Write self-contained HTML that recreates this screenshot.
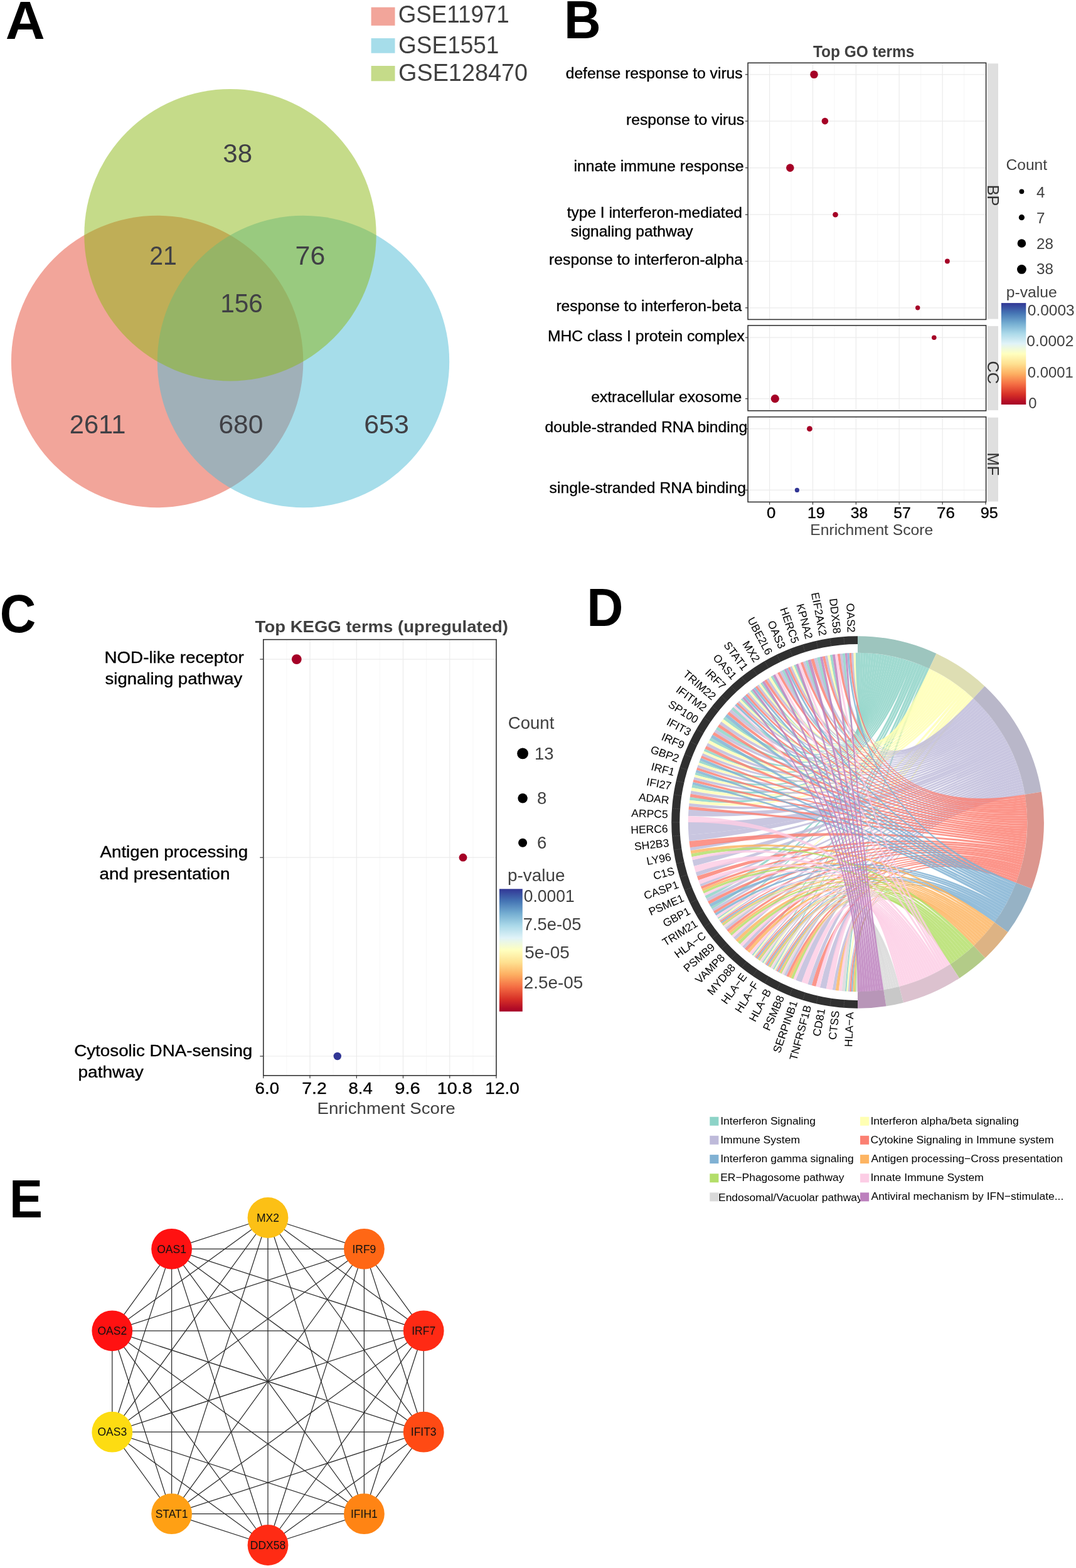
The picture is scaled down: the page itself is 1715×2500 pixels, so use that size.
<!DOCTYPE html>
<html><head><meta charset="utf-8"><title>Figure</title>
<style>
html,body{margin:0;padding:0;background:#fff;}
svg{display:block;font-family:'Liberation Sans', Arial, Helvetica, sans-serif;}
</style></head>
<body>
<svg width="1715" height="2500" viewBox="0 0 1715 2500">
<rect width="1715" height="2500" fill="#fff"/>
<text transform="translate(8.86,61.50) scale(1.0193,1)" font-size="85.5" font-weight="bold">A</text>
<text transform="translate(898.89,61.40) scale(0.9519,1)" font-size="85.5" font-weight="bold">B</text>
<text transform="translate(-0.20,1008.20) scale(0.9321,1)" font-size="85.5" font-weight="bold">C</text>
<text transform="translate(935.35,997.80) scale(0.9423,1)" font-size="85.5" font-weight="bold">D</text>
<text transform="translate(15.12,1940.80) scale(0.9292,1)" font-size="85.5" font-weight="bold">E</text>
<g>
<circle cx="250.6" cy="576.5" r="232.7" fill="#E64B35" fill-opacity="0.5"/>
<circle cx="483.5" cy="576.5" r="232.7" fill="#4DBBD5" fill-opacity="0.5"/>
<circle cx="367.0" cy="374.7" r="232.7" fill="#8BB713" fill-opacity="0.5"/>
</g>
<text transform="translate(355.31,258.90) scale(0.9930,1)" font-size="42.4" fill="#404045">38</text>
<text transform="translate(238.15,421.60) scale(0.9256,1)" font-size="42.4" fill="#404045">21</text>
<text transform="translate(470.57,421.60) scale(1.0140,1)" font-size="42.4" fill="#404045">76</text>
<text transform="translate(351.13,498.00) scale(0.9576,1)" font-size="42.4" fill="#404045">156</text>
<text transform="translate(110.73,691.00) scale(0.9839,1)" font-size="42.4" fill="#404045">2611</text>
<text transform="translate(348.39,691.00) scale(1.0045,1)" font-size="42.4" fill="#404045">680</text>
<text transform="translate(580.17,691.00) scale(1.0149,1)" font-size="42.4" fill="#404045">653</text>
<rect x="591.6" y="11.6" width="37.9" height="29.2" fill="#F2A59A"/>
<rect x="591.6" y="61.0" width="37.9" height="23.7" fill="#A6DDEA"/>
<rect x="591.6" y="105.0" width="37.9" height="24.3" fill="#C5DB89"/>
<text transform="translate(634.72,36.40) scale(0.9424,1)" font-size="39" fill="#404040">GSE11971</text>
<text transform="translate(635.10,84.70) scale(0.9479,1)" font-size="39" fill="#404040">GSE1551</text>
<text transform="translate(635.06,129.10) scale(0.9694,1)" font-size="39" fill="#404040">GSE128470</text>
<rect x="1192.1" y="100.3" width="379.5" height="409.1" fill="#fff"/>
<line x1="1261.0" y1="100.3" x2="1261.0" y2="509.4" stroke="#F4F4F4" stroke-width="0.8"/>
<line x1="1329.9" y1="100.3" x2="1329.9" y2="509.4" stroke="#F4F4F4" stroke-width="0.8"/>
<line x1="1398.8" y1="100.3" x2="1398.8" y2="509.4" stroke="#F4F4F4" stroke-width="0.8"/>
<line x1="1467.7" y1="100.3" x2="1467.7" y2="509.4" stroke="#F4F4F4" stroke-width="0.8"/>
<line x1="1536.6" y1="100.3" x2="1536.6" y2="509.4" stroke="#F4F4F4" stroke-width="0.8"/>
<line x1="1192.2" y1="100.3" x2="1192.2" y2="509.4" stroke="#F4F4F4" stroke-width="0.8"/>
<line x1="1226.6" y1="100.3" x2="1226.6" y2="509.4" stroke="#EBEBEB" stroke-width="1.2"/>
<line x1="1295.5" y1="100.3" x2="1295.5" y2="509.4" stroke="#EBEBEB" stroke-width="1.2"/>
<line x1="1364.4" y1="100.3" x2="1364.4" y2="509.4" stroke="#EBEBEB" stroke-width="1.2"/>
<line x1="1433.2" y1="100.3" x2="1433.2" y2="509.4" stroke="#EBEBEB" stroke-width="1.2"/>
<line x1="1502.1" y1="100.3" x2="1502.1" y2="509.4" stroke="#EBEBEB" stroke-width="1.2"/>
<rect x="1192.1" y="518.9" width="379.5" height="136.0" fill="#fff"/>
<line x1="1261.0" y1="518.9" x2="1261.0" y2="654.9" stroke="#F4F4F4" stroke-width="0.8"/>
<line x1="1329.9" y1="518.9" x2="1329.9" y2="654.9" stroke="#F4F4F4" stroke-width="0.8"/>
<line x1="1398.8" y1="518.9" x2="1398.8" y2="654.9" stroke="#F4F4F4" stroke-width="0.8"/>
<line x1="1467.7" y1="518.9" x2="1467.7" y2="654.9" stroke="#F4F4F4" stroke-width="0.8"/>
<line x1="1536.6" y1="518.9" x2="1536.6" y2="654.9" stroke="#F4F4F4" stroke-width="0.8"/>
<line x1="1192.2" y1="518.9" x2="1192.2" y2="654.9" stroke="#F4F4F4" stroke-width="0.8"/>
<line x1="1226.6" y1="518.9" x2="1226.6" y2="654.9" stroke="#EBEBEB" stroke-width="1.2"/>
<line x1="1295.5" y1="518.9" x2="1295.5" y2="654.9" stroke="#EBEBEB" stroke-width="1.2"/>
<line x1="1364.4" y1="518.9" x2="1364.4" y2="654.9" stroke="#EBEBEB" stroke-width="1.2"/>
<line x1="1433.2" y1="518.9" x2="1433.2" y2="654.9" stroke="#EBEBEB" stroke-width="1.2"/>
<line x1="1502.1" y1="518.9" x2="1502.1" y2="654.9" stroke="#EBEBEB" stroke-width="1.2"/>
<rect x="1192.1" y="664.7" width="379.5" height="135.7" fill="#fff"/>
<line x1="1261.0" y1="664.7" x2="1261.0" y2="800.4" stroke="#F4F4F4" stroke-width="0.8"/>
<line x1="1329.9" y1="664.7" x2="1329.9" y2="800.4" stroke="#F4F4F4" stroke-width="0.8"/>
<line x1="1398.8" y1="664.7" x2="1398.8" y2="800.4" stroke="#F4F4F4" stroke-width="0.8"/>
<line x1="1467.7" y1="664.7" x2="1467.7" y2="800.4" stroke="#F4F4F4" stroke-width="0.8"/>
<line x1="1536.6" y1="664.7" x2="1536.6" y2="800.4" stroke="#F4F4F4" stroke-width="0.8"/>
<line x1="1192.2" y1="664.7" x2="1192.2" y2="800.4" stroke="#F4F4F4" stroke-width="0.8"/>
<line x1="1226.6" y1="664.7" x2="1226.6" y2="800.4" stroke="#EBEBEB" stroke-width="1.2"/>
<line x1="1295.5" y1="664.7" x2="1295.5" y2="800.4" stroke="#EBEBEB" stroke-width="1.2"/>
<line x1="1364.4" y1="664.7" x2="1364.4" y2="800.4" stroke="#EBEBEB" stroke-width="1.2"/>
<line x1="1433.2" y1="664.7" x2="1433.2" y2="800.4" stroke="#EBEBEB" stroke-width="1.2"/>
<line x1="1502.1" y1="664.7" x2="1502.1" y2="800.4" stroke="#EBEBEB" stroke-width="1.2"/>
<line x1="1192.1" y1="118.8" x2="1571.6" y2="118.8" stroke="#EBEBEB" stroke-width="1.2"/>
<line x1="1192.1" y1="193.1" x2="1571.6" y2="193.1" stroke="#EBEBEB" stroke-width="1.2"/>
<line x1="1192.1" y1="267.6" x2="1571.6" y2="267.6" stroke="#EBEBEB" stroke-width="1.2"/>
<line x1="1192.1" y1="342.2" x2="1571.6" y2="342.2" stroke="#EBEBEB" stroke-width="1.2"/>
<line x1="1192.1" y1="416.5" x2="1571.6" y2="416.5" stroke="#EBEBEB" stroke-width="1.2"/>
<line x1="1192.1" y1="490.8" x2="1571.6" y2="490.8" stroke="#EBEBEB" stroke-width="1.2"/>
<line x1="1192.1" y1="538.2" x2="1571.6" y2="538.2" stroke="#EBEBEB" stroke-width="1.2"/>
<line x1="1192.1" y1="635.7" x2="1571.6" y2="635.7" stroke="#EBEBEB" stroke-width="1.2"/>
<line x1="1192.1" y1="683.7" x2="1571.6" y2="683.7" stroke="#EBEBEB" stroke-width="1.2"/>
<line x1="1192.1" y1="781.4" x2="1571.6" y2="781.4" stroke="#EBEBEB" stroke-width="1.2"/>
<circle cx="1297.5" cy="118.8" r="6.3" fill="#A50026"/>
<circle cx="1314.9" cy="193.1" r="5.3" fill="#A50026"/>
<circle cx="1259.3" cy="267.6" r="6.3" fill="#A50026"/>
<circle cx="1331.5" cy="342.2" r="4.3" fill="#A50026"/>
<circle cx="1509.9" cy="416.5" r="3.9" fill="#A50026"/>
<circle cx="1462.7" cy="490.8" r="3.7" fill="#A50026"/>
<circle cx="1488.8" cy="538.2" r="3.8" fill="#A50026"/>
<circle cx="1235.3" cy="635.7" r="6.6" fill="#A50026"/>
<circle cx="1290.4" cy="683.7" r="4.4" fill="#A50026"/>
<circle cx="1270.4" cy="781.4" r="3.6" fill="#313695"/>
<rect x="1192.1" y="100.3" width="379.5" height="409.1" fill="none" stroke="#333" stroke-width="1.6"/>
<rect x="1573.9" y="101.3" width="17.1" height="407.3" fill="#DFDFDF"/>
<rect x="1192.1" y="518.9" width="379.5" height="136.0" fill="none" stroke="#333" stroke-width="1.6"/>
<rect x="1573.9" y="519.9" width="17.1" height="134.2" fill="#DFDFDF"/>
<rect x="1192.1" y="664.7" width="379.5" height="135.7" fill="none" stroke="#333" stroke-width="1.6"/>
<rect x="1573.9" y="665.7" width="17.1" height="133.9" fill="#DFDFDF"/>
<text transform="translate(1573.6,311.6) rotate(90)" font-size="25.4" text-anchor="middle" fill="#333">BP</text>
<text transform="translate(1573.6,593.8) rotate(90)" font-size="25.4" text-anchor="middle" fill="#333">CC</text>
<text transform="translate(1573.6,739.9) rotate(90)" font-size="25.4" text-anchor="middle" fill="#333">MF</text>
<line x1="1187.9" y1="118.8" x2="1192.1" y2="118.8" stroke="#333" stroke-width="1.2"/>
<line x1="1187.9" y1="193.1" x2="1192.1" y2="193.1" stroke="#333" stroke-width="1.2"/>
<line x1="1187.9" y1="267.6" x2="1192.1" y2="267.6" stroke="#333" stroke-width="1.2"/>
<line x1="1187.9" y1="342.2" x2="1192.1" y2="342.2" stroke="#333" stroke-width="1.2"/>
<line x1="1187.9" y1="416.5" x2="1192.1" y2="416.5" stroke="#333" stroke-width="1.2"/>
<line x1="1187.9" y1="490.8" x2="1192.1" y2="490.8" stroke="#333" stroke-width="1.2"/>
<line x1="1187.9" y1="538.2" x2="1192.1" y2="538.2" stroke="#333" stroke-width="1.2"/>
<line x1="1187.9" y1="635.7" x2="1192.1" y2="635.7" stroke="#333" stroke-width="1.2"/>
<line x1="1187.9" y1="683.7" x2="1192.1" y2="683.7" stroke="#333" stroke-width="1.2"/>
<line x1="1187.9" y1="781.4" x2="1192.1" y2="781.4" stroke="#333" stroke-width="1.2"/>
<text transform="translate(901.69,124.60) scale(1.0057,1)" font-size="24.5" stroke="#000" stroke-width="0.35">defense response to virus</text>
<text transform="translate(997.98,199.10) scale(1.0092,1)" font-size="24.5" stroke="#000" stroke-width="0.35">response to virus</text>
<text transform="translate(914.58,273.00) scale(1.0102,1)" font-size="24.5" stroke="#000" stroke-width="0.35">innate immune response</text>
<text transform="translate(903.70,347.10)" font-size="24.5" stroke="#000" stroke-width="0.35">type I interferon-mediated</text>
<text transform="translate(909.80,376.70)" font-size="24.5" stroke="#000" stroke-width="0.35">signaling pathway</text>
<text transform="translate(875.08,422.40) scale(1.0089,1)" font-size="24.5" stroke="#000" stroke-width="0.35">response to interferon-alpha</text>
<text transform="translate(886.39,496.00) scale(1.0058,1)" font-size="24.5" stroke="#000" stroke-width="0.35">response to interferon-beta</text>
<text transform="translate(872.88,544.00) scale(1.0081,1)" font-size="24.5" stroke="#000" stroke-width="0.35">MHC class I protein complex</text>
<text transform="translate(942.19,641.00) scale(1.0076,1)" font-size="24.5" stroke="#000" stroke-width="0.35">extracellular exosome</text>
<text transform="translate(868.59,689.20) scale(1.0082,1)" font-size="24.5" stroke="#000" stroke-width="0.35">double-stranded RNA binding</text>
<text transform="translate(875.59,786.30) scale(1.0091,1)" font-size="24.5" stroke="#000" stroke-width="0.35">single-stranded RNA binding</text>
<line x1="1226.6" y1="800.4" x2="1226.6" y2="804.6" stroke="#333" stroke-width="1.2"/>
<text transform="translate(1222.01,826.40) scale(1.0909,1)" font-size="23.6" stroke="#000" stroke-width="0.35">0</text>
<line x1="1295.5" y1="800.4" x2="1295.5" y2="804.6" stroke="#333" stroke-width="1.2"/>
<text transform="translate(1286.99,826.40) scale(1.0565,1)" font-size="23.6" stroke="#000" stroke-width="0.35">19</text>
<line x1="1364.4" y1="800.4" x2="1364.4" y2="804.6" stroke="#333" stroke-width="1.2"/>
<text transform="translate(1355.75,826.40) scale(1.0458,1)" font-size="23.6" stroke="#000" stroke-width="0.35">38</text>
<line x1="1433.2" y1="800.4" x2="1433.2" y2="804.6" stroke="#333" stroke-width="1.2"/>
<text transform="translate(1424.25,826.40) scale(1.0458,1)" font-size="23.6" stroke="#000" stroke-width="0.35">57</text>
<line x1="1502.1" y1="800.4" x2="1502.1" y2="804.6" stroke="#333" stroke-width="1.2"/>
<text transform="translate(1493.00,826.40) scale(1.1000,1)" font-size="23.6" stroke="#000" stroke-width="0.35">76</text>
<line x1="1571.0" y1="800.4" x2="1571.0" y2="804.6" stroke="#333" stroke-width="1.2"/>
<text transform="translate(1562.83,826.40) scale(1.0667,1)" font-size="23.6" stroke="#000" stroke-width="0.35">95</text>
<text transform="translate(1291.26,852.80) scale(1.0196,1)" font-size="24.2" fill="#404040">Enrichment Score</text>
<text transform="translate(1295.90,91.10) scale(0.9805,1)" font-size="25.0" font-weight="bold" fill="#404040">Top GO terms</text>
<text transform="translate(1603.50,271.20)" font-size="24.6" fill="#404040">Count</text>
<circle cx="1628.4" cy="305.3" r="3.9" fill="#000"/>
<text x="1652.0" y="314.6" font-size="24.2" fill="#404040">4</text>
<circle cx="1628.4" cy="346.7" r="4.6" fill="#000"/>
<text x="1652.0" y="356.1" font-size="24.2" fill="#404040">7</text>
<circle cx="1628.4" cy="388.0" r="6.8" fill="#000"/>
<text x="1652.0" y="397.3" font-size="24.2" fill="#404040">28</text>
<circle cx="1628.4" cy="429.4" r="7.4" fill="#000"/>
<text x="1652.0" y="437.0" font-size="24.2" fill="#404040">38</text>
<text transform="translate(1603.68,474.10) scale(1.0208,1)" font-size="24.2" fill="#404040">p-value</text>
<defs><linearGradient id="rdylbu" x1="0" y1="0" x2="0" y2="1"><stop offset="0.0" stop-color="#313695"/><stop offset="0.1" stop-color="#4575B4"/><stop offset="0.2" stop-color="#74ADD1"/><stop offset="0.3" stop-color="#ABD9E9"/><stop offset="0.4" stop-color="#E0F3F8"/><stop offset="0.5" stop-color="#FFFFBF"/><stop offset="0.6" stop-color="#FEE090"/><stop offset="0.7" stop-color="#FDAE61"/><stop offset="0.8" stop-color="#F46D43"/><stop offset="0.9" stop-color="#D73027"/><stop offset="1.0" stop-color="#A50026"/></linearGradient></defs>
<rect x="1595.9" y="483.1" width="39.4" height="161.9" fill="url(#rdylbu)"/>
<text transform="translate(1637.79,502.50) scale(1.0125,1)" font-size="24.2" fill="#404040">0.0003</text>
<text transform="translate(1636.29,551.70) scale(1.0139,1)" font-size="24.2" fill="#404040">0.0002</text>
<text transform="translate(1637.81,601.50) scale(0.9861,1)" font-size="24.2" fill="#404040">0.0001</text>
<text transform="translate(1639.22,651.20) scale(0.9833,1)" font-size="24.2" fill="#404040">0</text>
<rect x="419.8" y="1019.7" width="371.2" height="695.1" fill="#fff"/>
<line x1="456.9" y1="1019.7" x2="456.9" y2="1714.8" stroke="#F4F4F4" stroke-width="0.8"/>
<line x1="531.2" y1="1019.7" x2="531.2" y2="1714.8" stroke="#F4F4F4" stroke-width="0.8"/>
<line x1="605.4" y1="1019.7" x2="605.4" y2="1714.8" stroke="#F4F4F4" stroke-width="0.8"/>
<line x1="679.6" y1="1019.7" x2="679.6" y2="1714.8" stroke="#F4F4F4" stroke-width="0.8"/>
<line x1="753.9" y1="1019.7" x2="753.9" y2="1714.8" stroke="#F4F4F4" stroke-width="0.8"/>
<line x1="494.0" y1="1019.7" x2="494.0" y2="1714.8" stroke="#EBEBEB" stroke-width="1.2"/>
<line x1="568.3" y1="1019.7" x2="568.3" y2="1714.8" stroke="#EBEBEB" stroke-width="1.2"/>
<line x1="642.5" y1="1019.7" x2="642.5" y2="1714.8" stroke="#EBEBEB" stroke-width="1.2"/>
<line x1="716.8" y1="1019.7" x2="716.8" y2="1714.8" stroke="#EBEBEB" stroke-width="1.2"/>
<line x1="419.8" y1="1051.1" x2="791.0" y2="1051.1" stroke="#EBEBEB" stroke-width="1.2"/>
<line x1="419.8" y1="1367.2" x2="791.0" y2="1367.2" stroke="#EBEBEB" stroke-width="1.2"/>
<line x1="419.8" y1="1684.0" x2="791.0" y2="1684.0" stroke="#EBEBEB" stroke-width="1.2"/>
<circle cx="472.8" cy="1051.1" r="7.9" fill="#A50026"/>
<line x1="414.3" y1="1051.1" x2="419.8" y2="1051.1" stroke="#333" stroke-width="1.2"/>
<circle cx="738.0" cy="1367.2" r="6.4" fill="#A50026"/>
<line x1="414.3" y1="1367.2" x2="419.8" y2="1367.2" stroke="#333" stroke-width="1.2"/>
<circle cx="537.8" cy="1684.0" r="6.2" fill="#313695"/>
<line x1="414.3" y1="1684.0" x2="419.8" y2="1684.0" stroke="#333" stroke-width="1.2"/>
<rect x="419.8" y="1019.7" width="371.2" height="695.1" fill="none" stroke="#333" stroke-width="1.6"/>
<text transform="translate(166.46,1057.30) scale(1.0684,1)" font-size="26.0" stroke="#000" stroke-width="0.35">NOD-like receptor</text>
<text transform="translate(167.54,1090.70) scale(1.0592,1)" font-size="26.0" stroke="#000" stroke-width="0.35">signaling pathway</text>
<text transform="translate(159.50,1367.20) scale(1.0659,1)" font-size="26.0" stroke="#000" stroke-width="0.35">Antigen processing</text>
<text transform="translate(158.43,1401.50) scale(1.0743,1)" font-size="26.0" stroke="#000" stroke-width="0.35">and presentation</text>
<text transform="translate(118.13,1684.00) scale(1.0692,1)" font-size="26.0" stroke="#000" stroke-width="0.35">Cytosolic DNA-sensing</text>
<text transform="translate(124.44,1717.50) scale(1.0789,1)" font-size="26.0" stroke="#000" stroke-width="0.35">pathway</text>
<line x1="419.8" y1="1714.8" x2="419.8" y2="1719.3" stroke="#333" stroke-width="1.2"/>
<text transform="translate(406.62,1743.60) scale(1.0794,1)" font-size="25.6" stroke="#000" stroke-width="0.35">6.0</text>
<line x1="494.0" y1="1714.8" x2="494.0" y2="1719.3" stroke="#333" stroke-width="1.2"/>
<text transform="translate(481.29,1743.60) scale(1.1091,1)" font-size="25.6" stroke="#000" stroke-width="0.35">7.2</text>
<line x1="568.3" y1="1714.8" x2="568.3" y2="1719.3" stroke="#333" stroke-width="1.2"/>
<text transform="translate(555.52,1743.60) scale(1.0765,1)" font-size="25.6" stroke="#000" stroke-width="0.35">8.4</text>
<line x1="642.5" y1="1714.8" x2="642.5" y2="1719.3" stroke="#333" stroke-width="1.2"/>
<text transform="translate(629.16,1743.60) scale(1.1394,1)" font-size="25.6" stroke="#000" stroke-width="0.35">9.6</text>
<line x1="716.8" y1="1714.8" x2="716.8" y2="1719.3" stroke="#333" stroke-width="1.2"/>
<text transform="translate(696.76,1743.60) scale(1.1213,1)" font-size="25.6" stroke="#000" stroke-width="0.35">10.8</text>
<line x1="791.0" y1="1714.8" x2="791.0" y2="1719.3" stroke="#333" stroke-width="1.2"/>
<text transform="translate(773.31,1743.60) scale(1.0957,1)" font-size="25.6" stroke="#000" stroke-width="0.35">12.0</text>
<text transform="translate(505.47,1775.70) scale(1.0662,1)" font-size="26.0" fill="#404040">Enrichment Score</text>
<text transform="translate(406.60,1007.80) scale(1.0398,1)" font-size="26.5" font-weight="bold" fill="#404040">Top KEGG terms (upregulated)</text>
<text transform="translate(809.70,1161.90) scale(1.0042,1)" font-size="27.5" fill="#404040">Count</text>
<circle cx="833.1" cy="1201.4" r="8.9" fill="#000"/>
<text x="852.0" y="1210.6" font-size="27.5" fill="#404040">13</text>
<circle cx="833.1" cy="1272.7" r="7.7" fill="#000"/>
<text x="856.0" y="1281.6" font-size="27.5" fill="#404040">8</text>
<circle cx="833.1" cy="1343.7" r="7.0" fill="#000"/>
<text x="856.0" y="1352.7" font-size="27.5" fill="#404040">6</text>
<text transform="translate(808.97,1405.00) scale(1.0138,1)" font-size="27.5" fill="#404040">p-value</text>
<rect x="795.9" y="1417.3" width="36.9" height="195.4" fill="url(#rdylbu)"/>
<text transform="translate(834.74,1437.80) scale(0.9646,1)" font-size="27.5" fill="#404040">0.0001</text>
<text transform="translate(833.70,1483.00) scale(0.9956,1)" font-size="27.5" fill="#404040">7.5e-05</text>
<text transform="translate(836.28,1528.20) scale(1.0176,1)" font-size="27.5" fill="#404040">5e-05</text>
<text transform="translate(834.68,1576.10) scale(1.0154,1)" font-size="27.5" fill="#404040">2.5e-05</text>
<g stroke="none">
<g fill="#8DD3C7" fill-opacity="0.83"><path d="M1367.00,1040.80A270.2,270.2 0 0 0 1363.63,1040.82Q1367.0,1311.0 1371.37,1040.84A270.2,270.2 0 0 0 1367.00,1040.80Q1367.0,1311.0 1367.00,1040.80Z"/><path d="M1346.81,1041.56A270.2,270.2 0 0 0 1342.78,1041.89Q1367.0,1311.0 1375.73,1040.94A270.2,270.2 0 0 0 1371.37,1040.84Q1367.0,1311.0 1346.81,1041.56Z"/><path d="M1326.73,1043.82A270.2,270.2 0 0 0 1322.74,1044.45Q1367.0,1311.0 1380.09,1041.12A270.2,270.2 0 0 0 1375.73,1040.94Q1367.0,1311.0 1326.73,1043.82Z"/><path d="M1306.87,1047.57A270.2,270.2 0 0 0 1301.96,1048.74Q1367.0,1311.0 1384.45,1041.36A270.2,270.2 0 0 0 1380.09,1041.12Q1367.0,1311.0 1306.87,1047.57Z"/><path d="M1287.36,1052.80A270.2,270.2 0 0 0 1283.50,1054.02Q1367.0,1311.0 1388.81,1041.68A270.2,270.2 0 0 0 1384.45,1041.36Q1367.0,1311.0 1287.36,1052.80Z"/><path d="M1268.28,1059.48A270.2,270.2 0 0 0 1265.16,1060.73Q1367.0,1311.0 1393.16,1042.07A270.2,270.2 0 0 0 1388.81,1041.68Q1367.0,1311.0 1268.28,1059.48Z"/><path d="M1249.76,1067.56A270.2,270.2 0 0 0 1246.14,1069.34Q1367.0,1311.0 1397.50,1042.53A270.2,270.2 0 0 0 1393.16,1042.07Q1367.0,1311.0 1249.76,1067.56Z"/><path d="M1231.90,1077.00A270.2,270.2 0 0 0 1228.41,1079.05Q1367.0,1311.0 1401.84,1043.05A270.2,270.2 0 0 0 1397.50,1042.53Q1367.0,1311.0 1231.90,1077.00Z"/><path d="M1214.79,1087.75A270.2,270.2 0 0 0 1212.02,1089.67Q1367.0,1311.0 1406.16,1043.65A270.2,270.2 0 0 0 1401.84,1043.05Q1367.0,1311.0 1214.79,1087.75Z"/><path d="M1198.53,1099.75A270.2,270.2 0 0 0 1195.91,1101.87Q1367.0,1311.0 1410.48,1044.32A270.2,270.2 0 0 0 1406.16,1043.65Q1367.0,1311.0 1198.53,1099.75Z"/><path d="M1183.22,1112.93A270.2,270.2 0 0 0 1180.76,1115.24Q1367.0,1311.0 1414.78,1045.06A270.2,270.2 0 0 0 1410.48,1044.32Q1367.0,1311.0 1183.22,1112.93Z"/><path d="M1168.93,1127.22A270.2,270.2 0 0 0 1165.53,1130.95Q1367.0,1311.0 1419.07,1045.86A270.2,270.2 0 0 0 1414.78,1045.06Q1367.0,1311.0 1168.93,1127.22Z"/><path d="M1155.75,1142.53A270.2,270.2 0 0 0 1152.64,1146.51Q1367.0,1311.0 1423.35,1046.74A270.2,270.2 0 0 0 1419.07,1045.86Q1367.0,1311.0 1155.75,1142.53Z"/><path d="M1143.75,1158.79A270.2,270.2 0 0 0 1140.94,1162.99Q1367.0,1311.0 1427.61,1047.69A270.2,270.2 0 0 0 1423.35,1046.74Q1367.0,1311.0 1143.75,1158.79Z"/><path d="M1133.00,1175.90A270.2,270.2 0 0 0 1130.51,1180.30Q1367.0,1311.0 1431.86,1048.70A270.2,270.2 0 0 0 1427.61,1047.69Q1367.0,1311.0 1133.00,1175.90Z"/><path d="M1123.56,1193.76A270.2,270.2 0 0 0 1121.83,1197.42Q1367.0,1311.0 1436.09,1049.78A270.2,270.2 0 0 0 1431.86,1048.70Q1367.0,1311.0 1123.56,1193.76Z"/><path d="M1115.48,1212.28A270.2,270.2 0 0 0 1114.03,1216.06Q1367.0,1311.0 1440.30,1050.93A270.2,270.2 0 0 0 1436.09,1049.78Q1367.0,1311.0 1115.48,1212.28Z"/><path d="M1108.80,1231.36A270.2,270.2 0 0 0 1107.64,1235.23Q1367.0,1311.0 1444.49,1052.15A270.2,270.2 0 0 0 1440.30,1050.93Q1367.0,1311.0 1108.80,1231.36Z"/><path d="M1103.57,1250.87A270.2,270.2 0 0 0 1102.50,1255.81Q1367.0,1311.0 1448.67,1053.44A270.2,270.2 0 0 0 1444.49,1052.15Q1367.0,1311.0 1103.57,1250.87Z"/><path d="M1099.82,1270.73A270.2,270.2 0 0 0 1099.11,1275.73Q1367.0,1311.0 1452.82,1054.79A270.2,270.2 0 0 0 1448.67,1053.44Q1367.0,1311.0 1099.82,1270.73Z"/><path d="M1123.56,1428.24A270.2,270.2 0 0 0 1125.79,1432.77Q1367.0,1311.0 1456.95,1056.21A270.2,270.2 0 0 0 1452.82,1054.79Q1367.0,1311.0 1123.56,1428.24Z"/><path d="M1133.00,1446.10A270.2,270.2 0 0 0 1135.05,1449.59Q1367.0,1311.0 1461.05,1057.70A270.2,270.2 0 0 0 1456.95,1056.21Q1367.0,1311.0 1133.00,1446.10Z"/><path d="M1143.75,1463.21A270.2,270.2 0 0 0 1145.02,1465.06Q1367.0,1311.0 1465.13,1059.25A270.2,270.2 0 0 0 1461.05,1057.70Q1367.0,1311.0 1143.75,1463.21Z"/><path d="M1198.53,1522.25A270.2,270.2 0 0 0 1200.29,1523.64Q1367.0,1311.0 1469.19,1060.87A270.2,270.2 0 0 0 1465.13,1059.25Q1367.0,1311.0 1198.53,1522.25Z"/><path d="M1214.79,1534.25A270.2,270.2 0 0 0 1216.65,1535.51Q1367.0,1311.0 1473.22,1062.55A270.2,270.2 0 0 0 1469.19,1060.87Q1367.0,1311.0 1214.79,1534.25Z"/><path d="M1231.90,1545.00A270.2,270.2 0 0 0 1233.85,1546.11Q1367.0,1311.0 1477.22,1064.30A270.2,270.2 0 0 0 1473.22,1062.55Q1367.0,1311.0 1231.90,1545.00Z"/><path d="M1346.81,1580.44A270.2,270.2 0 0 0 1349.33,1580.62Q1367.0,1311.0 1481.19,1066.12A270.2,270.2 0 0 0 1477.22,1064.30Q1367.0,1311.0 1346.81,1580.44Z"/></g>
<g fill="#FFFFB3" fill-opacity="0.83"><path d="M1363.63,1040.82A270.2,270.2 0 0 0 1360.26,1040.88Q1367.0,1311.0 1485.22,1068.04A270.2,270.2 0 0 0 1481.19,1066.12Q1367.0,1311.0 1363.63,1040.82Z"/><path d="M1322.74,1044.45A270.2,270.2 0 0 0 1318.75,1045.14Q1367.0,1311.0 1489.23,1070.03A270.2,270.2 0 0 0 1485.22,1068.04Q1367.0,1311.0 1322.74,1044.45Z"/><path d="M1265.16,1060.73A270.2,270.2 0 0 0 1262.04,1062.02Q1367.0,1311.0 1493.19,1072.08A270.2,270.2 0 0 0 1489.23,1070.03Q1367.0,1311.0 1265.16,1060.73Z"/><path d="M1228.41,1079.05A270.2,270.2 0 0 0 1224.96,1081.15Q1367.0,1311.0 1497.13,1074.20A270.2,270.2 0 0 0 1493.19,1072.08Q1367.0,1311.0 1228.41,1079.05Z"/><path d="M1212.02,1089.67A270.2,270.2 0 0 0 1209.27,1091.61Q1367.0,1311.0 1501.02,1076.38A270.2,270.2 0 0 0 1497.13,1074.20Q1367.0,1311.0 1212.02,1089.67Z"/><path d="M1195.91,1101.87A270.2,270.2 0 0 0 1193.32,1104.01Q1367.0,1311.0 1504.88,1078.63A270.2,270.2 0 0 0 1501.02,1076.38Q1367.0,1311.0 1195.91,1101.87Z"/><path d="M1180.76,1115.24A270.2,270.2 0 0 0 1178.34,1117.57Q1367.0,1311.0 1508.71,1080.94A270.2,270.2 0 0 0 1504.88,1078.63Q1367.0,1311.0 1180.76,1115.24Z"/><path d="M1152.64,1146.51A270.2,270.2 0 0 0 1149.60,1150.55Q1367.0,1311.0 1512.49,1083.32A270.2,270.2 0 0 0 1508.71,1080.94Q1367.0,1311.0 1152.64,1146.51Z"/><path d="M1130.51,1180.30A270.2,270.2 0 0 0 1128.11,1184.74Q1367.0,1311.0 1516.24,1085.75A270.2,270.2 0 0 0 1512.49,1083.32Q1367.0,1311.0 1130.51,1180.30Z"/><path d="M1121.83,1197.42A270.2,270.2 0 0 0 1120.16,1201.10Q1367.0,1311.0 1519.94,1088.25A270.2,270.2 0 0 0 1516.24,1085.75Q1367.0,1311.0 1121.83,1197.42Z"/><path d="M1114.03,1216.06A270.2,270.2 0 0 0 1112.64,1219.85Q1367.0,1311.0 1523.60,1090.81A270.2,270.2 0 0 0 1519.94,1088.25Q1367.0,1311.0 1114.03,1216.06Z"/><path d="M1107.64,1235.23A270.2,270.2 0 0 0 1106.54,1239.12Q1367.0,1311.0 1527.22,1093.43A270.2,270.2 0 0 0 1523.60,1090.81Q1367.0,1311.0 1107.64,1235.23Z"/><path d="M1102.50,1255.81A270.2,270.2 0 0 0 1101.51,1260.77Q1367.0,1311.0 1530.80,1096.11A270.2,270.2 0 0 0 1527.22,1093.43Q1367.0,1311.0 1102.50,1255.81Z"/><path d="M1099.11,1275.73A270.2,270.2 0 0 0 1098.50,1280.75Q1367.0,1311.0 1534.33,1098.85A270.2,270.2 0 0 0 1530.80,1096.11Q1367.0,1311.0 1099.11,1275.73Z"/><path d="M1145.02,1465.06A270.2,270.2 0 0 0 1146.31,1466.90Q1367.0,1311.0 1537.81,1101.64A270.2,270.2 0 0 0 1534.33,1098.85Q1367.0,1311.0 1145.02,1465.06Z"/><path d="M1200.29,1523.64A270.2,270.2 0 0 0 1202.07,1525.02Q1367.0,1311.0 1541.25,1104.49A270.2,270.2 0 0 0 1537.81,1101.64Q1367.0,1311.0 1200.29,1523.64Z"/><path d="M1216.65,1535.51A270.2,270.2 0 0 0 1218.52,1536.75Q1367.0,1311.0 1544.64,1107.40A270.2,270.2 0 0 0 1541.25,1104.49Q1367.0,1311.0 1216.65,1535.51Z"/><path d="M1233.85,1546.11A270.2,270.2 0 0 0 1235.81,1547.21Q1367.0,1311.0 1547.98,1110.37A270.2,270.2 0 0 0 1544.64,1107.40Q1367.0,1311.0 1233.85,1546.11Z"/><path d="M1349.33,1580.62A270.2,270.2 0 0 0 1351.85,1580.77Q1367.0,1311.0 1551.28,1113.39A270.2,270.2 0 0 0 1547.98,1110.37Q1367.0,1311.0 1349.33,1580.62Z"/></g>
<g fill="#BEBADA" fill-opacity="0.83"><path d="M1360.26,1040.88A270.2,270.2 0 0 0 1356.90,1040.99Q1367.0,1311.0 1554.34,1116.29A270.2,270.2 0 0 0 1551.28,1113.39Q1367.0,1311.0 1360.26,1040.88Z"/><path d="M1342.78,1041.89A270.2,270.2 0 0 0 1338.76,1042.28Q1367.0,1311.0 1557.36,1119.24A270.2,270.2 0 0 0 1554.34,1116.29Q1367.0,1311.0 1342.78,1041.89Z"/><path d="M1318.75,1045.14A270.2,270.2 0 0 0 1314.78,1045.89Q1367.0,1311.0 1560.33,1122.24A270.2,270.2 0 0 0 1557.36,1119.24Q1367.0,1311.0 1318.75,1045.14Z"/><path d="M1301.96,1048.74A270.2,270.2 0 0 0 1297.07,1050.01Q1367.0,1311.0 1563.26,1125.28A270.2,270.2 0 0 0 1560.33,1122.24Q1367.0,1311.0 1301.96,1048.74Z"/><path d="M1283.50,1054.02A270.2,270.2 0 0 0 1279.67,1055.30Q1367.0,1311.0 1566.14,1128.37A270.2,270.2 0 0 0 1563.26,1125.28Q1367.0,1311.0 1283.50,1054.02Z"/><path d="M1262.04,1062.02A270.2,270.2 0 0 0 1258.95,1063.34Q1367.0,1311.0 1568.97,1131.51A270.2,270.2 0 0 0 1566.14,1128.37Q1367.0,1311.0 1262.04,1062.02Z"/><path d="M1246.14,1069.34A270.2,270.2 0 0 0 1242.53,1071.17Q1367.0,1311.0 1571.75,1134.68A270.2,270.2 0 0 0 1568.97,1131.51Q1367.0,1311.0 1246.14,1069.34Z"/><path d="M1224.96,1081.15A270.2,270.2 0 0 0 1221.54,1083.30Q1367.0,1311.0 1574.48,1137.90A270.2,270.2 0 0 0 1571.75,1134.68Q1367.0,1311.0 1224.96,1081.15Z"/><path d="M1209.27,1091.61A270.2,270.2 0 0 0 1206.55,1093.60Q1367.0,1311.0 1577.15,1141.17A270.2,270.2 0 0 0 1574.48,1137.90Q1367.0,1311.0 1209.27,1091.61Z"/><path d="M1193.32,1104.01A270.2,270.2 0 0 0 1190.75,1106.20Q1367.0,1311.0 1579.78,1144.47A270.2,270.2 0 0 0 1577.15,1141.17Q1367.0,1311.0 1193.32,1104.01Z"/><path d="M1178.34,1117.57A270.2,270.2 0 0 0 1175.94,1119.94Q1367.0,1311.0 1582.36,1147.82A270.2,270.2 0 0 0 1579.78,1144.47Q1367.0,1311.0 1178.34,1117.57Z"/><path d="M1165.53,1130.95A270.2,270.2 0 0 0 1162.20,1134.75Q1367.0,1311.0 1584.88,1151.20A270.2,270.2 0 0 0 1582.36,1147.82Q1367.0,1311.0 1165.53,1130.95Z"/><path d="M1149.60,1150.55A270.2,270.2 0 0 0 1146.64,1154.64Q1367.0,1311.0 1587.35,1154.62A270.2,270.2 0 0 0 1584.88,1151.20Q1367.0,1311.0 1149.60,1150.55Z"/><path d="M1140.94,1162.99A270.2,270.2 0 0 0 1138.22,1167.24Q1367.0,1311.0 1589.77,1158.09A270.2,270.2 0 0 0 1587.35,1154.62Q1367.0,1311.0 1140.94,1162.99Z"/><path d="M1128.11,1184.74A270.2,270.2 0 0 0 1125.79,1189.23Q1367.0,1311.0 1592.13,1161.59A270.2,270.2 0 0 0 1589.77,1158.09Q1367.0,1311.0 1128.11,1184.74Z"/><path d="M1120.16,1201.10A270.2,270.2 0 0 0 1118.54,1204.80Q1367.0,1311.0 1594.44,1165.12A270.2,270.2 0 0 0 1592.13,1161.59Q1367.0,1311.0 1120.16,1201.10Z"/><path d="M1112.64,1219.85A270.2,270.2 0 0 0 1111.30,1223.67Q1367.0,1311.0 1596.69,1168.69A270.2,270.2 0 0 0 1594.44,1165.12Q1367.0,1311.0 1112.64,1219.85Z"/><path d="M1106.54,1239.12A270.2,270.2 0 0 0 1105.49,1243.02Q1367.0,1311.0 1598.88,1172.30A270.2,270.2 0 0 0 1596.69,1168.69Q1367.0,1311.0 1106.54,1239.12Z"/><path d="M1101.51,1260.77A270.2,270.2 0 0 0 1100.62,1265.74Q1367.0,1311.0 1601.02,1175.94A270.2,270.2 0 0 0 1598.88,1172.30Q1367.0,1311.0 1101.51,1260.77Z"/><path d="M1098.50,1280.75A270.2,270.2 0 0 0 1097.98,1285.77Q1367.0,1311.0 1603.10,1179.61A270.2,270.2 0 0 0 1601.02,1175.94Q1367.0,1311.0 1098.50,1280.75Z"/><path d="M1097.56,1290.81A270.2,270.2 0 0 0 1096.99,1300.90Q1367.0,1311.0 1605.13,1183.32A270.2,270.2 0 0 0 1603.10,1179.61Q1367.0,1311.0 1097.56,1290.81Z"/><path d="M1096.80,1311.00A270.2,270.2 0 0 0 1097.56,1331.19Q1367.0,1311.0 1607.09,1187.05A270.2,270.2 0 0 0 1605.13,1183.32Q1367.0,1311.0 1096.80,1311.00Z"/><path d="M1097.56,1331.19A270.2,270.2 0 0 0 1098.50,1341.25Q1367.0,1311.0 1609.00,1190.82A270.2,270.2 0 0 0 1607.09,1187.05Q1367.0,1311.0 1097.56,1331.19Z"/><path d="M1099.82,1351.27A270.2,270.2 0 0 0 1100.62,1356.26Q1367.0,1311.0 1610.85,1194.62A270.2,270.2 0 0 0 1609.00,1190.82Q1367.0,1311.0 1099.82,1351.27Z"/><path d="M1103.57,1371.13A270.2,270.2 0 0 0 1106.01,1380.93Q1367.0,1311.0 1612.64,1198.44A270.2,270.2 0 0 0 1610.85,1194.62Q1367.0,1311.0 1103.57,1371.13Z"/><path d="M1108.80,1390.64A270.2,270.2 0 0 0 1110.87,1397.06Q1367.0,1311.0 1614.37,1202.29A270.2,270.2 0 0 0 1612.64,1198.44Q1367.0,1311.0 1108.80,1390.64Z"/><path d="M1115.48,1409.72A270.2,270.2 0 0 0 1116.98,1413.47Q1367.0,1311.0 1616.04,1206.17A270.2,270.2 0 0 0 1614.37,1202.29Q1367.0,1311.0 1115.48,1409.72Z"/><path d="M1125.79,1432.77A270.2,270.2 0 0 0 1128.11,1437.26Q1367.0,1311.0 1617.64,1210.07A270.2,270.2 0 0 0 1616.04,1206.17Q1367.0,1311.0 1125.79,1432.77Z"/><path d="M1135.05,1449.59A270.2,270.2 0 0 0 1137.15,1453.04Q1367.0,1311.0 1619.19,1214.00A270.2,270.2 0 0 0 1617.64,1210.07Q1367.0,1311.0 1135.05,1449.59Z"/><path d="M1146.31,1466.90A270.2,270.2 0 0 0 1147.61,1468.73Q1367.0,1311.0 1620.67,1217.95A270.2,270.2 0 0 0 1619.19,1214.00Q1367.0,1311.0 1146.31,1466.90Z"/><path d="M1155.75,1479.47A270.2,270.2 0 0 0 1158.29,1482.61Q1367.0,1311.0 1622.10,1221.93A270.2,270.2 0 0 0 1620.67,1217.95Q1367.0,1311.0 1155.75,1479.47Z"/><path d="M1168.93,1494.78A270.2,270.2 0 0 0 1172.40,1498.45Q1367.0,1311.0 1623.46,1225.92A270.2,270.2 0 0 0 1622.10,1221.93Q1367.0,1311.0 1168.93,1494.78Z"/><path d="M1183.22,1509.07A270.2,270.2 0 0 0 1186.95,1512.47Q1367.0,1311.0 1624.76,1229.94A270.2,270.2 0 0 0 1623.46,1225.92Q1367.0,1311.0 1183.22,1509.07Z"/><path d="M1202.07,1525.02A270.2,270.2 0 0 0 1203.85,1526.39Q1367.0,1311.0 1625.99,1233.98A270.2,270.2 0 0 0 1624.76,1229.94Q1367.0,1311.0 1202.07,1525.02Z"/><path d="M1218.52,1536.75A270.2,270.2 0 0 0 1220.40,1537.98Q1367.0,1311.0 1627.16,1238.04A270.2,270.2 0 0 0 1625.99,1233.98Q1367.0,1311.0 1218.52,1536.75Z"/><path d="M1235.81,1547.21A270.2,270.2 0 0 0 1237.78,1548.30Q1367.0,1311.0 1628.27,1242.11A270.2,270.2 0 0 0 1627.16,1238.04Q1367.0,1311.0 1235.81,1547.21Z"/><path d="M1249.76,1554.44A270.2,270.2 0 0 0 1253.42,1556.17Q1367.0,1311.0 1629.31,1246.20A270.2,270.2 0 0 0 1628.27,1242.11Q1367.0,1311.0 1249.76,1554.44Z"/><path d="M1268.28,1562.52A270.2,270.2 0 0 0 1277.76,1566.04Q1367.0,1311.0 1630.29,1250.31A270.2,270.2 0 0 0 1629.31,1246.20Q1367.0,1311.0 1268.28,1562.52Z"/><path d="M1287.36,1569.20A270.2,270.2 0 0 0 1293.82,1571.10Q1367.0,1311.0 1631.21,1254.43A270.2,270.2 0 0 0 1630.29,1250.31Q1367.0,1311.0 1287.36,1569.20Z"/><path d="M1306.87,1574.43A270.2,270.2 0 0 0 1316.77,1576.49Q1367.0,1311.0 1632.06,1258.56A270.2,270.2 0 0 0 1631.21,1254.43Q1367.0,1311.0 1306.87,1574.43Z"/><path d="M1326.73,1578.18A270.2,270.2 0 0 0 1331.73,1578.89Q1367.0,1311.0 1632.85,1262.71A270.2,270.2 0 0 0 1632.06,1258.56Q1367.0,1311.0 1326.73,1578.18Z"/><path d="M1351.85,1580.77A270.2,270.2 0 0 0 1354.37,1580.90Q1367.0,1311.0 1633.57,1266.87A270.2,270.2 0 0 0 1632.85,1262.71Q1367.0,1311.0 1351.85,1580.77Z"/></g>
<g fill="#FB8072" fill-opacity="0.83"><path d="M1356.90,1040.99A270.2,270.2 0 0 0 1353.53,1041.14Q1367.0,1311.0 1634.23,1271.02A270.2,270.2 0 0 0 1633.57,1266.87Q1367.0,1311.0 1356.90,1040.99Z"/><path d="M1338.76,1042.28A270.2,270.2 0 0 0 1334.74,1042.73Q1367.0,1311.0 1634.82,1275.18A270.2,270.2 0 0 0 1634.23,1271.02Q1367.0,1311.0 1338.76,1042.28Z"/><path d="M1314.78,1045.89A270.2,270.2 0 0 0 1310.82,1046.70Q1367.0,1311.0 1635.34,1279.35A270.2,270.2 0 0 0 1634.82,1275.18Q1367.0,1311.0 1314.78,1045.89Z"/><path d="M1297.07,1050.01A270.2,270.2 0 0 0 1292.20,1051.36Q1367.0,1311.0 1635.80,1283.53A270.2,270.2 0 0 0 1635.34,1279.35Q1367.0,1311.0 1297.07,1050.01Z"/><path d="M1279.67,1055.30A270.2,270.2 0 0 0 1275.85,1056.64Q1367.0,1311.0 1636.19,1287.71A270.2,270.2 0 0 0 1635.80,1283.53Q1367.0,1311.0 1279.67,1055.30Z"/><path d="M1258.95,1063.34A270.2,270.2 0 0 0 1255.87,1064.71Q1367.0,1311.0 1636.52,1291.90A270.2,270.2 0 0 0 1636.19,1287.71Q1367.0,1311.0 1258.95,1063.34Z"/><path d="M1242.53,1071.17A270.2,270.2 0 0 0 1238.96,1073.06Q1367.0,1311.0 1636.79,1296.10A270.2,270.2 0 0 0 1636.52,1291.90Q1367.0,1311.0 1242.53,1071.17Z"/><path d="M1221.54,1083.30A270.2,270.2 0 0 0 1218.15,1085.50Q1367.0,1311.0 1636.99,1300.29A270.2,270.2 0 0 0 1636.79,1296.10Q1367.0,1311.0 1221.54,1083.30Z"/><path d="M1206.55,1093.60A270.2,270.2 0 0 0 1203.85,1095.61Q1367.0,1311.0 1637.12,1304.50A270.2,270.2 0 0 0 1636.99,1300.29Q1367.0,1311.0 1206.55,1093.60Z"/><path d="M1190.75,1106.20A270.2,270.2 0 0 0 1188.21,1108.41Q1367.0,1311.0 1637.19,1308.70A270.2,270.2 0 0 0 1637.12,1304.50Q1367.0,1311.0 1190.75,1106.20Z"/><path d="M1175.94,1119.94A270.2,270.2 0 0 0 1173.57,1122.34Q1367.0,1311.0 1637.19,1312.90A270.2,270.2 0 0 0 1637.19,1308.70Q1367.0,1311.0 1175.94,1119.94Z"/><path d="M1162.20,1134.75A270.2,270.2 0 0 0 1158.94,1138.61Q1367.0,1311.0 1637.13,1317.10A270.2,270.2 0 0 0 1637.19,1312.90Q1367.0,1311.0 1162.20,1134.75Z"/><path d="M1146.64,1154.64A270.2,270.2 0 0 0 1143.75,1158.79Q1367.0,1311.0 1637.00,1321.30A270.2,270.2 0 0 0 1637.13,1317.10Q1367.0,1311.0 1146.64,1154.64Z"/><path d="M1138.22,1167.24A270.2,270.2 0 0 0 1135.57,1171.55Q1367.0,1311.0 1636.81,1325.50A270.2,270.2 0 0 0 1637.00,1321.30Q1367.0,1311.0 1138.22,1167.24Z"/><path d="M1125.79,1189.23A270.2,270.2 0 0 0 1123.56,1193.76Q1367.0,1311.0 1636.55,1329.70A270.2,270.2 0 0 0 1636.81,1325.50Q1367.0,1311.0 1125.79,1189.23Z"/><path d="M1118.54,1204.80A270.2,270.2 0 0 0 1116.98,1208.53Q1367.0,1311.0 1636.23,1333.89A270.2,270.2 0 0 0 1636.55,1329.70Q1367.0,1311.0 1118.54,1204.80Z"/><path d="M1111.30,1223.67A270.2,270.2 0 0 0 1110.02,1227.50Q1367.0,1311.0 1635.84,1338.07A270.2,270.2 0 0 0 1636.23,1333.89Q1367.0,1311.0 1111.30,1223.67Z"/><path d="M1105.49,1243.02A270.2,270.2 0 0 0 1104.50,1246.94Q1367.0,1311.0 1635.39,1342.25A270.2,270.2 0 0 0 1635.84,1338.07Q1367.0,1311.0 1105.49,1243.02Z"/><path d="M1100.62,1265.74A270.2,270.2 0 0 0 1099.82,1270.73Q1367.0,1311.0 1634.87,1346.42A270.2,270.2 0 0 0 1635.39,1342.25Q1367.0,1311.0 1100.62,1265.74Z"/><path d="M1097.98,1285.77A270.2,270.2 0 0 0 1097.56,1290.81Q1367.0,1311.0 1634.29,1350.58A270.2,270.2 0 0 0 1634.87,1346.42Q1367.0,1311.0 1097.98,1285.77Z"/><path d="M1098.50,1341.25A270.2,270.2 0 0 0 1099.82,1351.27Q1367.0,1311.0 1633.64,1354.73A270.2,270.2 0 0 0 1634.29,1350.58Q1367.0,1311.0 1098.50,1341.25Z"/><path d="M1110.87,1397.06A270.2,270.2 0 0 0 1113.10,1403.41Q1367.0,1311.0 1632.92,1358.88A270.2,270.2 0 0 0 1633.64,1354.73Q1367.0,1311.0 1110.87,1397.06Z"/><path d="M1116.98,1413.47A270.2,270.2 0 0 0 1118.54,1417.20Q1367.0,1311.0 1632.15,1363.01A270.2,270.2 0 0 0 1632.92,1358.88Q1367.0,1311.0 1116.98,1413.47Z"/><path d="M1128.11,1437.26A270.2,270.2 0 0 0 1130.51,1441.70Q1367.0,1311.0 1631.31,1367.12A270.2,270.2 0 0 0 1632.15,1363.01Q1367.0,1311.0 1128.11,1437.26Z"/><path d="M1137.15,1453.04A270.2,270.2 0 0 0 1139.30,1456.46Q1367.0,1311.0 1630.40,1371.23A270.2,270.2 0 0 0 1631.31,1367.12Q1367.0,1311.0 1137.15,1453.04Z"/><path d="M1147.61,1468.73A270.2,270.2 0 0 0 1148.93,1470.55Q1367.0,1311.0 1629.43,1375.32A270.2,270.2 0 0 0 1630.40,1371.23Q1367.0,1311.0 1147.61,1468.73Z"/><path d="M1158.29,1482.61A270.2,270.2 0 0 0 1160.88,1485.71Q1367.0,1311.0 1628.40,1379.39A270.2,270.2 0 0 0 1629.43,1375.32Q1367.0,1311.0 1158.29,1482.61Z"/><path d="M1186.95,1512.47A270.2,270.2 0 0 0 1190.75,1515.80Q1367.0,1311.0 1627.31,1383.45A270.2,270.2 0 0 0 1628.40,1379.39Q1367.0,1311.0 1186.95,1512.47Z"/><path d="M1203.85,1526.39A270.2,270.2 0 0 0 1205.65,1527.73Q1367.0,1311.0 1626.15,1387.49A270.2,270.2 0 0 0 1627.31,1383.45Q1367.0,1311.0 1203.85,1526.39Z"/><path d="M1220.40,1537.98A270.2,270.2 0 0 0 1222.30,1539.19Q1367.0,1311.0 1624.93,1391.51A270.2,270.2 0 0 0 1626.15,1387.49Q1367.0,1311.0 1220.40,1537.98Z"/><path d="M1237.78,1548.30A270.2,270.2 0 0 0 1239.75,1549.36Q1367.0,1311.0 1623.64,1395.51A270.2,270.2 0 0 0 1624.93,1391.51Q1367.0,1311.0 1237.78,1548.30Z"/><path d="M1253.42,1556.17A270.2,270.2 0 0 0 1257.10,1557.84Q1367.0,1311.0 1622.30,1399.49A270.2,270.2 0 0 0 1623.64,1395.51Q1367.0,1311.0 1253.42,1556.17Z"/><path d="M1293.82,1571.10A270.2,270.2 0 0 0 1300.33,1572.84Q1367.0,1311.0 1620.89,1403.45A270.2,270.2 0 0 0 1622.30,1399.49Q1367.0,1311.0 1293.82,1571.10Z"/><path d="M1354.37,1580.90A270.2,270.2 0 0 0 1356.90,1581.01Q1367.0,1311.0 1619.42,1407.39A270.2,270.2 0 0 0 1620.89,1403.45Q1367.0,1311.0 1354.37,1580.90Z"/></g>
<g fill="#80B1D3" fill-opacity="0.83"><path d="M1353.53,1041.14A270.2,270.2 0 0 0 1350.17,1041.32Q1367.0,1311.0 1617.88,1411.34A270.2,270.2 0 0 0 1619.42,1407.39Q1367.0,1311.0 1353.53,1041.14Z"/><path d="M1255.87,1064.71A270.2,270.2 0 0 0 1252.81,1066.12Q1367.0,1311.0 1616.27,1415.27A270.2,270.2 0 0 0 1617.88,1411.34Q1367.0,1311.0 1255.87,1064.71Z"/><path d="M1203.85,1095.61A270.2,270.2 0 0 0 1201.18,1097.67Q1367.0,1311.0 1614.60,1419.17A270.2,270.2 0 0 0 1616.27,1415.27Q1367.0,1311.0 1203.85,1095.61Z"/><path d="M1188.21,1108.41A270.2,270.2 0 0 0 1185.70,1110.65Q1367.0,1311.0 1612.87,1423.05A270.2,270.2 0 0 0 1614.60,1419.17Q1367.0,1311.0 1188.21,1108.41Z"/><path d="M1173.57,1122.34A270.2,270.2 0 0 0 1171.24,1124.76Q1367.0,1311.0 1611.08,1426.90A270.2,270.2 0 0 0 1612.87,1423.05Q1367.0,1311.0 1173.57,1122.34Z"/><path d="M1158.94,1138.61A270.2,270.2 0 0 0 1155.75,1142.53Q1367.0,1311.0 1609.23,1430.72A270.2,270.2 0 0 0 1611.08,1426.90Q1367.0,1311.0 1158.94,1138.61Z"/><path d="M1135.57,1171.55A270.2,270.2 0 0 0 1133.00,1175.90Q1367.0,1311.0 1607.32,1434.51A270.2,270.2 0 0 0 1609.23,1430.72Q1367.0,1311.0 1135.57,1171.55Z"/><path d="M1116.98,1208.53A270.2,270.2 0 0 0 1115.48,1212.28Q1367.0,1311.0 1605.35,1438.27A270.2,270.2 0 0 0 1607.32,1434.51Q1367.0,1311.0 1116.98,1208.53Z"/><path d="M1110.02,1227.50A270.2,270.2 0 0 0 1108.80,1231.36Q1367.0,1311.0 1603.32,1442.00A270.2,270.2 0 0 0 1605.35,1438.27Q1367.0,1311.0 1110.02,1227.50Z"/><path d="M1104.50,1246.94A270.2,270.2 0 0 0 1103.57,1250.87Q1367.0,1311.0 1601.24,1445.69A270.2,270.2 0 0 0 1603.32,1442.00Q1367.0,1311.0 1104.50,1246.94Z"/><path d="M1130.51,1441.70A270.2,270.2 0 0 0 1133.00,1446.10Q1367.0,1311.0 1599.09,1449.35A270.2,270.2 0 0 0 1601.24,1445.69Q1367.0,1311.0 1130.51,1441.70Z"/><path d="M1139.30,1456.46A270.2,270.2 0 0 0 1141.50,1459.85Q1367.0,1311.0 1596.89,1452.98A270.2,270.2 0 0 0 1599.09,1449.35Q1367.0,1311.0 1139.30,1456.46Z"/><path d="M1148.93,1470.55A270.2,270.2 0 0 0 1150.27,1472.35Q1367.0,1311.0 1594.63,1456.58A270.2,270.2 0 0 0 1596.89,1452.98Q1367.0,1311.0 1148.93,1470.55Z"/><path d="M1205.65,1527.73A270.2,270.2 0 0 0 1207.45,1529.07Q1367.0,1311.0 1592.32,1460.13A270.2,270.2 0 0 0 1594.63,1456.58Q1367.0,1311.0 1205.65,1527.73Z"/><path d="M1222.30,1539.19A270.2,270.2 0 0 0 1224.20,1540.38Q1367.0,1311.0 1589.95,1463.65A270.2,270.2 0 0 0 1592.32,1460.13Q1367.0,1311.0 1222.30,1539.19Z"/><path d="M1239.75,1549.36A270.2,270.2 0 0 0 1241.74,1550.41Q1367.0,1311.0 1587.52,1467.14A270.2,270.2 0 0 0 1589.95,1463.65Q1367.0,1311.0 1239.75,1549.36Z"/><path d="M1356.90,1581.01A270.2,270.2 0 0 0 1359.42,1581.09Q1367.0,1311.0 1585.04,1470.58A270.2,270.2 0 0 0 1587.52,1467.14Q1367.0,1311.0 1356.90,1581.01Z"/></g>
<g fill="#FDB462" fill-opacity="0.83"><path d="M1100.62,1356.26A270.2,270.2 0 0 0 1101.51,1361.23Q1367.0,1311.0 1582.55,1473.92A270.2,270.2 0 0 0 1585.04,1470.58Q1367.0,1311.0 1100.62,1356.26Z"/><path d="M1118.54,1417.20A270.2,270.2 0 0 0 1120.16,1420.90Q1367.0,1311.0 1580.02,1477.23A270.2,270.2 0 0 0 1582.55,1473.92Q1367.0,1311.0 1118.54,1417.20Z"/><path d="M1150.27,1472.35A270.2,270.2 0 0 0 1151.61,1474.15Q1367.0,1311.0 1577.43,1480.49A270.2,270.2 0 0 0 1580.02,1477.23Q1367.0,1311.0 1150.27,1472.35Z"/><path d="M1160.88,1485.71A270.2,270.2 0 0 0 1163.52,1488.78Q1367.0,1311.0 1574.79,1483.72A270.2,270.2 0 0 0 1577.43,1480.49Q1367.0,1311.0 1160.88,1485.71Z"/><path d="M1172.40,1498.45A270.2,270.2 0 0 0 1175.94,1502.06Q1367.0,1311.0 1572.10,1486.90A270.2,270.2 0 0 0 1574.79,1483.72Q1367.0,1311.0 1172.40,1498.45Z"/><path d="M1190.75,1515.80A270.2,270.2 0 0 0 1194.61,1519.06Q1367.0,1311.0 1569.37,1490.04A270.2,270.2 0 0 0 1572.10,1486.90Q1367.0,1311.0 1190.75,1515.80Z"/><path d="M1207.45,1529.07A270.2,270.2 0 0 0 1209.27,1530.39Q1367.0,1311.0 1566.58,1493.14A270.2,270.2 0 0 0 1569.37,1490.04Q1367.0,1311.0 1207.45,1529.07Z"/><path d="M1224.20,1540.38A270.2,270.2 0 0 0 1226.11,1541.56Q1367.0,1311.0 1563.75,1496.19A270.2,270.2 0 0 0 1566.58,1493.14Q1367.0,1311.0 1224.20,1540.38Z"/><path d="M1241.74,1550.41A270.2,270.2 0 0 0 1243.73,1551.44Q1367.0,1311.0 1560.87,1499.20A270.2,270.2 0 0 0 1563.75,1496.19Q1367.0,1311.0 1241.74,1550.41Z"/><path d="M1257.10,1557.84A270.2,270.2 0 0 0 1260.80,1559.46Q1367.0,1311.0 1557.95,1502.17A270.2,270.2 0 0 0 1560.87,1499.20Q1367.0,1311.0 1257.10,1557.84Z"/><path d="M1331.73,1578.89A270.2,270.2 0 0 0 1336.75,1579.50Q1367.0,1311.0 1554.98,1505.09A270.2,270.2 0 0 0 1557.95,1502.17Q1367.0,1311.0 1331.73,1578.89Z"/><path d="M1359.42,1581.09A270.2,270.2 0 0 0 1361.95,1581.15Q1367.0,1311.0 1551.96,1507.97A270.2,270.2 0 0 0 1554.98,1505.09Q1367.0,1311.0 1359.42,1581.09Z"/></g>
<g fill="#B3DE69" fill-opacity="0.83"><path d="M1101.51,1361.23A270.2,270.2 0 0 0 1102.50,1366.19Q1367.0,1311.0 1548.46,1511.20A270.2,270.2 0 0 0 1551.96,1507.97Q1367.0,1311.0 1101.51,1361.23Z"/><path d="M1120.16,1420.90A270.2,270.2 0 0 0 1121.83,1424.58Q1367.0,1311.0 1544.91,1514.36A270.2,270.2 0 0 0 1548.46,1511.20Q1367.0,1311.0 1120.16,1420.90Z"/><path d="M1151.61,1474.15A270.2,270.2 0 0 0 1152.98,1475.93Q1367.0,1311.0 1541.29,1517.47A270.2,270.2 0 0 0 1544.91,1514.36Q1367.0,1311.0 1151.61,1474.15Z"/><path d="M1163.52,1488.78A270.2,270.2 0 0 0 1166.20,1491.80Q1367.0,1311.0 1537.63,1520.51A270.2,270.2 0 0 0 1541.29,1517.47Q1367.0,1311.0 1163.52,1488.78Z"/><path d="M1175.94,1502.06A270.2,270.2 0 0 0 1179.55,1505.60Q1367.0,1311.0 1533.91,1523.48A270.2,270.2 0 0 0 1537.63,1520.51Q1367.0,1311.0 1175.94,1502.06Z"/><path d="M1209.27,1530.39A270.2,270.2 0 0 0 1211.10,1531.69Q1367.0,1311.0 1530.14,1526.39A270.2,270.2 0 0 0 1533.91,1523.48Q1367.0,1311.0 1209.27,1530.39Z"/><path d="M1226.11,1541.56A270.2,270.2 0 0 0 1228.03,1542.72Q1367.0,1311.0 1526.32,1529.24A270.2,270.2 0 0 0 1530.14,1526.39Q1367.0,1311.0 1226.11,1541.56Z"/><path d="M1243.73,1551.44A270.2,270.2 0 0 0 1245.73,1552.46Q1367.0,1311.0 1522.44,1532.01A270.2,270.2 0 0 0 1526.32,1529.24Q1367.0,1311.0 1243.73,1551.44Z"/><path d="M1260.80,1559.46A270.2,270.2 0 0 0 1264.53,1561.02Q1367.0,1311.0 1518.52,1534.72A270.2,270.2 0 0 0 1522.44,1532.01Q1367.0,1311.0 1260.80,1559.46Z"/><path d="M1361.95,1581.15A270.2,270.2 0 0 0 1364.47,1581.19Q1367.0,1311.0 1514.56,1537.35A270.2,270.2 0 0 0 1518.52,1534.72Q1367.0,1311.0 1361.95,1581.15Z"/></g>
<g fill="#FCCDE5" fill-opacity="0.83"><path d="M1334.74,1042.73A270.2,270.2 0 0 0 1330.73,1043.25Q1367.0,1311.0 1511.15,1539.54A270.2,270.2 0 0 0 1514.56,1537.35Q1367.0,1311.0 1334.74,1042.73Z"/><path d="M1275.85,1056.64A270.2,270.2 0 0 0 1272.06,1058.03Q1367.0,1311.0 1507.70,1541.67A270.2,270.2 0 0 0 1511.15,1539.54Q1367.0,1311.0 1275.85,1056.64Z"/><path d="M1238.96,1073.06A270.2,270.2 0 0 0 1235.42,1075.01Q1367.0,1311.0 1504.23,1543.76A270.2,270.2 0 0 0 1507.70,1541.67Q1367.0,1311.0 1238.96,1073.06Z"/><path d="M1171.24,1124.76A270.2,270.2 0 0 0 1168.93,1127.22Q1367.0,1311.0 1500.72,1545.79A270.2,270.2 0 0 0 1504.23,1543.76Q1367.0,1311.0 1171.24,1124.76Z"/><path d="M1096.99,1300.90A270.2,270.2 0 0 0 1096.80,1311.00Q1367.0,1311.0 1497.19,1547.77A270.2,270.2 0 0 0 1500.72,1545.79Q1367.0,1311.0 1096.99,1300.90Z"/><path d="M1102.50,1366.19A270.2,270.2 0 0 0 1103.57,1371.13Q1367.0,1311.0 1493.62,1549.69A270.2,270.2 0 0 0 1497.19,1547.77Q1367.0,1311.0 1102.50,1366.19Z"/><path d="M1106.01,1380.93A270.2,270.2 0 0 0 1108.80,1390.64Q1367.0,1311.0 1490.03,1551.56A270.2,270.2 0 0 0 1493.62,1549.69Q1367.0,1311.0 1106.01,1380.93Z"/><path d="M1113.10,1403.41A270.2,270.2 0 0 0 1115.48,1409.72Q1367.0,1311.0 1486.41,1553.38A270.2,270.2 0 0 0 1490.03,1551.56Q1367.0,1311.0 1113.10,1403.41Z"/><path d="M1121.83,1424.58A270.2,270.2 0 0 0 1123.56,1428.24Q1367.0,1311.0 1482.76,1555.15A270.2,270.2 0 0 0 1486.41,1553.38Q1367.0,1311.0 1121.83,1424.58Z"/><path d="M1141.50,1459.85A270.2,270.2 0 0 0 1143.75,1463.21Q1367.0,1311.0 1479.09,1556.85A270.2,270.2 0 0 0 1482.76,1555.15Q1367.0,1311.0 1141.50,1459.85Z"/><path d="M1152.98,1475.93A270.2,270.2 0 0 0 1154.36,1477.71Q1367.0,1311.0 1475.39,1558.51A270.2,270.2 0 0 0 1479.09,1556.85Q1367.0,1311.0 1152.98,1475.93Z"/><path d="M1166.20,1491.80A270.2,270.2 0 0 0 1168.93,1494.78Q1367.0,1311.0 1471.67,1560.10A270.2,270.2 0 0 0 1475.39,1558.51Q1367.0,1311.0 1166.20,1491.80Z"/><path d="M1179.55,1505.60A270.2,270.2 0 0 0 1183.22,1509.07Q1367.0,1311.0 1467.92,1561.65A270.2,270.2 0 0 0 1471.67,1560.10Q1367.0,1311.0 1179.55,1505.60Z"/><path d="M1194.61,1519.06A270.2,270.2 0 0 0 1198.53,1522.25Q1367.0,1311.0 1464.15,1563.13A270.2,270.2 0 0 0 1467.92,1561.65Q1367.0,1311.0 1194.61,1519.06Z"/><path d="M1211.10,1531.69A270.2,270.2 0 0 0 1212.94,1532.98Q1367.0,1311.0 1460.36,1564.56A270.2,270.2 0 0 0 1464.15,1563.13Q1367.0,1311.0 1211.10,1531.69Z"/><path d="M1228.03,1542.72A270.2,270.2 0 0 0 1229.96,1543.87Q1367.0,1311.0 1456.55,1565.93A270.2,270.2 0 0 0 1460.36,1564.56Q1367.0,1311.0 1228.03,1542.72Z"/><path d="M1245.73,1552.46A270.2,270.2 0 0 0 1247.75,1553.46Q1367.0,1311.0 1452.72,1567.24A270.2,270.2 0 0 0 1456.55,1565.93Q1367.0,1311.0 1245.73,1552.46Z"/><path d="M1264.53,1561.02A270.2,270.2 0 0 0 1268.28,1562.52Q1367.0,1311.0 1448.86,1568.50A270.2,270.2 0 0 0 1452.72,1567.24Q1367.0,1311.0 1264.53,1561.02Z"/><path d="M1277.76,1566.04A270.2,270.2 0 0 0 1287.36,1569.20Q1367.0,1311.0 1444.99,1569.70A270.2,270.2 0 0 0 1448.86,1568.50Q1367.0,1311.0 1277.76,1566.04Z"/><path d="M1300.33,1572.84A270.2,270.2 0 0 0 1306.87,1574.43Q1367.0,1311.0 1441.11,1570.84A270.2,270.2 0 0 0 1444.99,1569.70Q1367.0,1311.0 1300.33,1572.84Z"/><path d="M1316.77,1576.49A270.2,270.2 0 0 0 1326.73,1578.18Q1367.0,1311.0 1437.20,1571.92A270.2,270.2 0 0 0 1441.11,1570.84Q1367.0,1311.0 1316.77,1576.49Z"/><path d="M1336.75,1579.50A270.2,270.2 0 0 0 1341.77,1580.02Q1367.0,1311.0 1433.28,1572.94A270.2,270.2 0 0 0 1437.20,1571.92Q1367.0,1311.0 1336.75,1579.50Z"/></g>
<g fill="#D9D9D9" fill-opacity="0.83"><path d="M1154.36,1477.71A270.2,270.2 0 0 0 1155.75,1479.47Q1367.0,1311.0 1429.16,1573.95A270.2,270.2 0 0 0 1433.28,1572.94Q1367.0,1311.0 1154.36,1477.71Z"/><path d="M1212.94,1532.98A270.2,270.2 0 0 0 1214.79,1534.25Q1367.0,1311.0 1425.02,1574.90A270.2,270.2 0 0 0 1429.16,1573.95Q1367.0,1311.0 1212.94,1532.98Z"/><path d="M1229.96,1543.87A270.2,270.2 0 0 0 1231.90,1545.00Q1367.0,1311.0 1420.87,1575.78A270.2,270.2 0 0 0 1425.02,1574.90Q1367.0,1311.0 1229.96,1543.87Z"/><path d="M1247.75,1553.46A270.2,270.2 0 0 0 1249.76,1554.44Q1367.0,1311.0 1416.70,1576.59A270.2,270.2 0 0 0 1420.87,1575.78Q1367.0,1311.0 1247.75,1553.46Z"/><path d="M1341.77,1580.02A270.2,270.2 0 0 0 1346.81,1580.44Q1367.0,1311.0 1412.53,1577.34A270.2,270.2 0 0 0 1416.70,1576.59Q1367.0,1311.0 1341.77,1580.02Z"/><path d="M1364.47,1581.19A270.2,270.2 0 0 0 1367.00,1581.20Q1367.0,1311.0 1408.34,1578.02A270.2,270.2 0 0 0 1412.53,1577.34Q1367.0,1311.0 1364.47,1581.19Z"/></g>
<g fill="#BC80BD" fill-opacity="0.83"><path d="M1350.17,1041.32A270.2,270.2 0 0 0 1346.81,1041.56Q1367.0,1311.0 1404.23,1578.62A270.2,270.2 0 0 0 1408.34,1578.02Q1367.0,1311.0 1350.17,1041.32Z"/><path d="M1330.73,1043.25A270.2,270.2 0 0 0 1326.73,1043.82Q1367.0,1311.0 1400.12,1579.16A270.2,270.2 0 0 0 1404.23,1578.62Q1367.0,1311.0 1330.73,1043.25Z"/><path d="M1310.82,1046.70A270.2,270.2 0 0 0 1306.87,1047.57Q1367.0,1311.0 1395.99,1579.64A270.2,270.2 0 0 0 1400.12,1579.16Q1367.0,1311.0 1310.82,1046.70Z"/><path d="M1292.20,1051.36A270.2,270.2 0 0 0 1287.36,1052.80Q1367.0,1311.0 1391.86,1580.05A270.2,270.2 0 0 0 1395.99,1579.64Q1367.0,1311.0 1292.20,1051.36Z"/><path d="M1272.06,1058.03A270.2,270.2 0 0 0 1268.28,1059.48Q1367.0,1311.0 1387.73,1580.40A270.2,270.2 0 0 0 1391.86,1580.05Q1367.0,1311.0 1272.06,1058.03Z"/><path d="M1252.81,1066.12A270.2,270.2 0 0 0 1249.76,1067.56Q1367.0,1311.0 1383.59,1580.69A270.2,270.2 0 0 0 1387.73,1580.40Q1367.0,1311.0 1252.81,1066.12Z"/><path d="M1235.42,1075.01A270.2,270.2 0 0 0 1231.90,1077.00Q1367.0,1311.0 1379.45,1580.91A270.2,270.2 0 0 0 1383.59,1580.69Q1367.0,1311.0 1235.42,1075.01Z"/><path d="M1218.15,1085.50A270.2,270.2 0 0 0 1214.79,1087.75Q1367.0,1311.0 1375.30,1581.07A270.2,270.2 0 0 0 1379.45,1580.91Q1367.0,1311.0 1218.15,1085.50Z"/><path d="M1201.18,1097.67A270.2,270.2 0 0 0 1198.53,1099.75Q1367.0,1311.0 1371.15,1581.17A270.2,270.2 0 0 0 1375.30,1581.07Q1367.0,1311.0 1201.18,1097.67Z"/><path d="M1185.70,1110.65A270.2,270.2 0 0 0 1183.22,1112.93Q1367.0,1311.0 1367.00,1581.20A270.2,270.2 0 0 0 1371.15,1581.17Q1367.0,1311.0 1185.70,1110.65Z"/></g>
</g>
<path d="M1367.00,1014.20A296.8,296.8 0 0 1 1492.43,1042.01L1481.19,1066.12A270.2,270.2 0 0 0 1367.00,1040.80Z" fill="#9DC5BE"/>
<path d="M1492.43,1042.01A296.8,296.8 0 0 1 1569.42,1093.93L1551.28,1113.39A270.2,270.2 0 0 0 1481.19,1066.12Z" fill="#DEDEB3"/>
<path d="M1569.42,1093.93A296.8,296.8 0 0 1 1659.81,1262.52L1633.57,1266.87A270.2,270.2 0 0 0 1551.28,1113.39Z" fill="#B9B7C9"/>
<path d="M1659.81,1262.52A296.8,296.8 0 0 1 1644.27,1416.88L1619.42,1407.39A270.2,270.2 0 0 0 1633.57,1266.87Z" fill="#DC968E"/>
<path d="M1644.27,1416.88A296.8,296.8 0 0 1 1606.51,1486.29L1585.04,1470.58A270.2,270.2 0 0 0 1619.42,1407.39Z" fill="#96B2C5"/>
<path d="M1606.51,1486.29A296.8,296.8 0 0 1 1570.17,1527.36L1551.96,1507.97A270.2,270.2 0 0 0 1585.04,1470.58Z" fill="#DDB384"/>
<path d="M1570.17,1527.36A296.8,296.8 0 0 1 1529.08,1559.63L1514.56,1537.35A270.2,270.2 0 0 0 1551.96,1507.97Z" fill="#B3CB88"/>
<path d="M1529.08,1559.63A296.8,296.8 0 0 1 1439.81,1598.73L1433.28,1572.94A270.2,270.2 0 0 0 1514.56,1537.35Z" fill="#DCC2CF"/>
<path d="M1439.81,1598.73A296.8,296.8 0 0 1 1412.41,1604.31L1408.34,1578.02A270.2,270.2 0 0 0 1433.28,1572.94Z" fill="#C8C8C8"/>
<path d="M1412.41,1604.31A296.8,296.8 0 0 1 1367.00,1607.80L1367.00,1581.20A270.2,270.2 0 0 0 1408.34,1578.02Z" fill="#B896B8"/>
<path d="M1367.00,1607.80A296.8,296.8 0 0 1 1367.00,1014.20L1367.00,1027.10A283.9,283.9 0 0 0 1367.00,1594.90Z" fill="#303030"/>
<path d="M1345.75,1027.40L1344.86,1015.53M1324.61,1029.78L1322.84,1018.01M1303.72,1033.73L1301.07,1022.13M1283.17,1039.24L1279.66,1027.86M1263.10,1046.26L1258.75,1035.18M1243.60,1054.76L1238.44,1044.04M1224.80,1064.70L1218.85,1054.40M1206.79,1076.02L1200.09,1066.19M1189.68,1088.65L1182.26,1079.34M1173.56,1102.52L1165.46,1093.80M1158.52,1117.56L1149.80,1109.46M1144.65,1133.68L1135.34,1126.26M1132.02,1150.79L1122.19,1144.09M1120.70,1168.80L1110.40,1162.85M1110.76,1187.60L1100.04,1182.44M1102.26,1207.10L1091.18,1202.75M1095.24,1227.17L1083.86,1223.66M1089.73,1247.72L1078.13,1245.07M1085.78,1268.61L1074.01,1266.84M1083.40,1289.75L1071.53,1288.86M1082.60,1311.00L1070.70,1311.00M1083.40,1332.25L1071.53,1333.14M1085.78,1353.39L1074.01,1355.16M1089.73,1374.28L1078.13,1376.93M1095.24,1394.83L1083.86,1398.34M1102.26,1414.90L1091.18,1419.25M1110.76,1434.40L1100.04,1439.56M1120.70,1453.20L1110.40,1459.15M1132.02,1471.21L1122.19,1477.91M1144.65,1488.32L1135.34,1495.74M1158.52,1504.44L1149.80,1512.54M1173.56,1519.48L1165.46,1528.20M1189.68,1533.35L1182.26,1542.66M1206.79,1545.98L1200.09,1555.81M1224.80,1557.30L1218.85,1567.60M1243.60,1567.24L1238.44,1577.96M1263.10,1575.74L1258.75,1586.82M1283.17,1582.76L1279.66,1594.14M1303.72,1588.27L1301.07,1599.87M1324.61,1592.22L1322.84,1603.99M1345.75,1594.60L1344.86,1606.47" stroke="#5A5A5A" stroke-width="0.8" stroke-dasharray="1.6,1.4" fill="none"/>
<text transform="translate(1355.69,1008.61) rotate(87.86)" font-size="17.5" text-anchor="end" dy="0.27em">OAS2</text>
<text transform="translate(1333.12,1010.30) rotate(83.57)" font-size="17.5" text-anchor="end" dy="0.27em">DDX58</text>
<text transform="translate(1310.74,1013.68) rotate(79.29)" font-size="17.5" text-anchor="end" dy="0.27em">EIF2AK2</text>
<text transform="translate(1288.68,1018.71) rotate(75.00)" font-size="17.5" text-anchor="end" dy="0.27em">KPNA2</text>
<text transform="translate(1267.06,1025.38) rotate(70.71)" font-size="17.5" text-anchor="end" dy="0.27em">HERC5</text>
<text transform="translate(1245.99,1033.65) rotate(66.43)" font-size="17.5" text-anchor="end" dy="0.27em">OAS3</text>
<text transform="translate(1225.60,1043.47) rotate(62.14)" font-size="17.5" text-anchor="end" dy="0.27em">UBE2L6</text>
<text transform="translate(1206.01,1054.78) rotate(57.86)" font-size="17.5" text-anchor="end" dy="0.27em">MX2</text>
<text transform="translate(1187.31,1067.53) rotate(53.57)" font-size="17.5" text-anchor="end" dy="0.27em">STAT1</text>
<text transform="translate(1169.62,1081.64) rotate(49.29)" font-size="17.5" text-anchor="end" dy="0.27em">OAS1</text>
<text transform="translate(1153.03,1097.03) rotate(45.00)" font-size="17.5" text-anchor="end" dy="0.27em">IRF7</text>
<text transform="translate(1137.64,1113.62) rotate(40.71)" font-size="17.5" text-anchor="end" dy="0.27em">TRIM22</text>
<text transform="translate(1123.53,1131.31) rotate(36.43)" font-size="17.5" text-anchor="end" dy="0.27em">IFITM2</text>
<text transform="translate(1110.78,1150.01) rotate(32.14)" font-size="17.5" text-anchor="end" dy="0.27em">SP100</text>
<text transform="translate(1099.47,1169.60) rotate(27.86)" font-size="17.5" text-anchor="end" dy="0.27em">IFIT3</text>
<text transform="translate(1089.65,1189.99) rotate(23.57)" font-size="17.5" text-anchor="end" dy="0.27em">IRF9</text>
<text transform="translate(1081.38,1211.06) rotate(19.29)" font-size="17.5" text-anchor="end" dy="0.27em">GBP2</text>
<text transform="translate(1074.71,1232.68) rotate(15.00)" font-size="17.5" text-anchor="end" dy="0.27em">IRF1</text>
<text transform="translate(1069.68,1254.74) rotate(10.71)" font-size="17.5" text-anchor="end" dy="0.27em">IFI27</text>
<text transform="translate(1066.30,1277.12) rotate(6.43)" font-size="17.5" text-anchor="end" dy="0.27em">ADAR</text>
<text transform="translate(1064.61,1299.69) rotate(2.14)" font-size="17.5" text-anchor="end" dy="0.27em">ARPC5</text>
<text transform="translate(1064.61,1322.31) rotate(-2.14)" font-size="17.5" text-anchor="end" dy="0.27em">HERC6</text>
<text transform="translate(1066.30,1344.88) rotate(-6.43)" font-size="17.5" text-anchor="end" dy="0.27em">SH2B3</text>
<text transform="translate(1069.68,1367.26) rotate(-10.71)" font-size="17.5" text-anchor="end" dy="0.27em">LY96</text>
<text transform="translate(1074.71,1389.32) rotate(-15.00)" font-size="17.5" text-anchor="end" dy="0.27em">C1S</text>
<text transform="translate(1081.38,1410.94) rotate(-19.29)" font-size="17.5" text-anchor="end" dy="0.27em">CASP1</text>
<text transform="translate(1089.65,1432.01) rotate(-23.57)" font-size="17.5" text-anchor="end" dy="0.27em">PSME1</text>
<text transform="translate(1099.47,1452.40) rotate(-27.86)" font-size="17.5" text-anchor="end" dy="0.27em">GBP1</text>
<text transform="translate(1110.78,1471.99) rotate(-32.14)" font-size="17.5" text-anchor="end" dy="0.27em">TRIM21</text>
<text transform="translate(1123.53,1490.69) rotate(-36.43)" font-size="17.5" text-anchor="end" dy="0.27em">HLA−C</text>
<text transform="translate(1137.64,1508.38) rotate(-40.71)" font-size="17.5" text-anchor="end" dy="0.27em">PSMB9</text>
<text transform="translate(1153.03,1524.97) rotate(-45.00)" font-size="17.5" text-anchor="end" dy="0.27em">VAMP8</text>
<text transform="translate(1169.62,1540.36) rotate(-49.29)" font-size="17.5" text-anchor="end" dy="0.27em">MYD88</text>
<text transform="translate(1187.31,1554.47) rotate(-53.57)" font-size="17.5" text-anchor="end" dy="0.27em">HLA−E</text>
<text transform="translate(1206.01,1567.22) rotate(-57.86)" font-size="17.5" text-anchor="end" dy="0.27em">HLA−F</text>
<text transform="translate(1225.60,1578.53) rotate(-62.14)" font-size="17.5" text-anchor="end" dy="0.27em">HLA−B</text>
<text transform="translate(1245.99,1588.35) rotate(-66.43)" font-size="17.5" text-anchor="end" dy="0.27em">PSMB8</text>
<text transform="translate(1267.06,1596.62) rotate(-70.71)" font-size="17.5" text-anchor="end" dy="0.27em">SERPINB1</text>
<text transform="translate(1288.68,1603.29) rotate(-75.00)" font-size="17.5" text-anchor="end" dy="0.27em">TNFRSF1B</text>
<text transform="translate(1310.74,1608.32) rotate(-79.29)" font-size="17.5" text-anchor="end" dy="0.27em">CD81</text>
<text transform="translate(1333.12,1611.70) rotate(-83.57)" font-size="17.5" text-anchor="end" dy="0.27em">CTSS</text>
<text transform="translate(1355.69,1613.39) rotate(-87.86)" font-size="17.5" text-anchor="end" dy="0.27em">HLA−A</text>
<rect x="1131.3" y="1780.7" width="14.1" height="14.0" fill="#8DD3C7"/>
<text transform="translate(1148.18,1792.60) scale(1.0177,1)" font-size="17.2">Interferon Signaling</text>
<rect x="1371.0" y="1780.7" width="14.1" height="14.0" fill="#FFFFB3"/>
<text transform="translate(1387.48,1792.60) scale(1.0214,1)" font-size="17.2">Interferon alpha/beta signaling</text>
<rect x="1131.3" y="1810.8" width="14.1" height="14.0" fill="#BEBADA"/>
<text transform="translate(1148.18,1822.50) scale(1.0230,1)" font-size="17.2">Immune System</text>
<rect x="1371.0" y="1810.8" width="14.1" height="14.0" fill="#FB8072"/>
<text transform="translate(1387.48,1822.50) scale(1.0189,1)" font-size="17.2">Cytokine Signaling in Immune system</text>
<rect x="1131.3" y="1841.1" width="14.1" height="14.0" fill="#80B1D3"/>
<text transform="translate(1148.18,1852.50) scale(1.0204,1)" font-size="17.2">Interferon gamma signaling</text>
<rect x="1371.0" y="1841.1" width="14.1" height="14.0" fill="#FDB462"/>
<text transform="translate(1388.50,1852.50) scale(1.0163,1)" font-size="17.2">Antigen processing−Cross presentation</text>
<rect x="1131.3" y="1871.3" width="14.1" height="14.0" fill="#B3DE69"/>
<text transform="translate(1148.19,1882.60) scale(1.0140,1)" font-size="17.2">ER−Phagosome pathway</text>
<rect x="1371.0" y="1871.3" width="14.1" height="14.0" fill="#FCCDE5"/>
<text transform="translate(1387.48,1882.60) scale(1.0206,1)" font-size="17.2">Innate Immune System</text>
<rect x="1131.3" y="1901.4" width="14.1" height="14.0" fill="#D9D9D9"/>
<text transform="translate(1144.98,1915.30) scale(1.0156,1)" font-size="17.2">Endosomal/Vacuolar pathway</text>
<rect x="1371.0" y="1901.4" width="14.1" height="14.0" fill="#BC80BD"/>
<text transform="translate(1388.50,1913.00) scale(1.0150,1)" font-size="17.2">Antiviral mechanism by IFN−stimulate...</text>
<g stroke="#2A2A2A" stroke-width="1.25">
<line x1="427.0" y1="1941.5" x2="580.4" y2="1991.3"/>
<line x1="427.0" y1="1941.5" x2="675.2" y2="2121.8"/>
<line x1="427.0" y1="1941.5" x2="675.2" y2="2283.2"/>
<line x1="427.0" y1="1941.5" x2="580.4" y2="2413.7"/>
<line x1="427.0" y1="1941.5" x2="427.0" y2="2463.5"/>
<line x1="427.0" y1="1941.5" x2="273.6" y2="2413.7"/>
<line x1="427.0" y1="1941.5" x2="178.8" y2="2283.2"/>
<line x1="427.0" y1="1941.5" x2="178.8" y2="2121.8"/>
<line x1="427.0" y1="1941.5" x2="273.6" y2="1991.3"/>
<line x1="580.4" y1="1991.3" x2="675.2" y2="2121.8"/>
<line x1="580.4" y1="1991.3" x2="675.2" y2="2283.2"/>
<line x1="580.4" y1="1991.3" x2="580.4" y2="2413.7"/>
<line x1="580.4" y1="1991.3" x2="427.0" y2="2463.5"/>
<line x1="580.4" y1="1991.3" x2="273.6" y2="2413.7"/>
<line x1="580.4" y1="1991.3" x2="178.8" y2="2283.2"/>
<line x1="580.4" y1="1991.3" x2="178.8" y2="2121.8"/>
<line x1="580.4" y1="1991.3" x2="273.6" y2="1991.3"/>
<line x1="675.2" y1="2121.8" x2="675.2" y2="2283.2"/>
<line x1="675.2" y1="2121.8" x2="580.4" y2="2413.7"/>
<line x1="675.2" y1="2121.8" x2="427.0" y2="2463.5"/>
<line x1="675.2" y1="2121.8" x2="273.6" y2="2413.7"/>
<line x1="675.2" y1="2121.8" x2="178.8" y2="2283.2"/>
<line x1="675.2" y1="2121.8" x2="178.8" y2="2121.8"/>
<line x1="675.2" y1="2121.8" x2="273.6" y2="1991.3"/>
<line x1="675.2" y1="2283.2" x2="580.4" y2="2413.7"/>
<line x1="675.2" y1="2283.2" x2="427.0" y2="2463.5"/>
<line x1="675.2" y1="2283.2" x2="273.6" y2="2413.7"/>
<line x1="675.2" y1="2283.2" x2="178.8" y2="2283.2"/>
<line x1="675.2" y1="2283.2" x2="178.8" y2="2121.8"/>
<line x1="675.2" y1="2283.2" x2="273.6" y2="1991.3"/>
<line x1="580.4" y1="2413.7" x2="427.0" y2="2463.5"/>
<line x1="580.4" y1="2413.7" x2="273.6" y2="2413.7"/>
<line x1="580.4" y1="2413.7" x2="178.8" y2="2283.2"/>
<line x1="580.4" y1="2413.7" x2="178.8" y2="2121.8"/>
<line x1="580.4" y1="2413.7" x2="273.6" y2="1991.3"/>
<line x1="427.0" y1="2463.5" x2="273.6" y2="2413.7"/>
<line x1="427.0" y1="2463.5" x2="178.8" y2="2283.2"/>
<line x1="427.0" y1="2463.5" x2="178.8" y2="2121.8"/>
<line x1="427.0" y1="2463.5" x2="273.6" y2="1991.3"/>
<line x1="273.6" y1="2413.7" x2="178.8" y2="2283.2"/>
<line x1="273.6" y1="2413.7" x2="178.8" y2="2121.8"/>
<line x1="273.6" y1="2413.7" x2="273.6" y2="1991.3"/>
<line x1="178.8" y1="2283.2" x2="178.8" y2="2121.8"/>
<line x1="178.8" y1="2283.2" x2="273.6" y2="1991.3"/>
<line x1="178.8" y1="2121.8" x2="273.6" y2="1991.3"/>
</g>
<circle cx="427.0" cy="1941.5" r="32.4" fill="#FCC015"/>
<text x="427.0" y="1947.7" font-size="17.5" text-anchor="middle" fill="#111">MX2</text>
<circle cx="580.4" cy="1991.3" r="32.4" fill="#FF6715"/>
<text x="580.4" y="1997.5" font-size="17.5" text-anchor="middle" fill="#111">IRF9</text>
<circle cx="675.2" cy="2121.8" r="32.4" fill="#FF2A14"/>
<text x="675.2" y="2128.0" font-size="17.5" text-anchor="middle" fill="#111">IRF7</text>
<circle cx="675.2" cy="2283.2" r="32.4" fill="#FF4A14"/>
<text x="675.2" y="2289.4" font-size="17.5" text-anchor="middle" fill="#111">IFIT3</text>
<circle cx="580.4" cy="2413.7" r="32.4" fill="#FF8414"/>
<text x="580.4" y="2419.9" font-size="17.5" text-anchor="middle" fill="#111">IFIH1</text>
<circle cx="427.0" cy="2463.5" r="32.4" fill="#FF2B14"/>
<text x="427.0" y="2469.7" font-size="17.5" text-anchor="middle" fill="#111">DDX58</text>
<circle cx="273.6" cy="2413.7" r="32.4" fill="#FFA014"/>
<text x="273.6" y="2419.9" font-size="17.5" text-anchor="middle" fill="#111">STAT1</text>
<circle cx="178.8" cy="2283.2" r="32.4" fill="#FDDC12"/>
<text x="178.8" y="2289.4" font-size="17.5" text-anchor="middle" fill="#111">OAS3</text>
<circle cx="178.8" cy="2121.8" r="32.4" fill="#FF1111"/>
<text x="178.8" y="2128.0" font-size="17.5" text-anchor="middle" fill="#111">OAS2</text>
<circle cx="273.6" cy="1991.3" r="32.4" fill="#FF1111"/>
<text x="273.6" y="1997.5" font-size="17.5" text-anchor="middle" fill="#111">OAS1</text>
</svg>
</body></html>
